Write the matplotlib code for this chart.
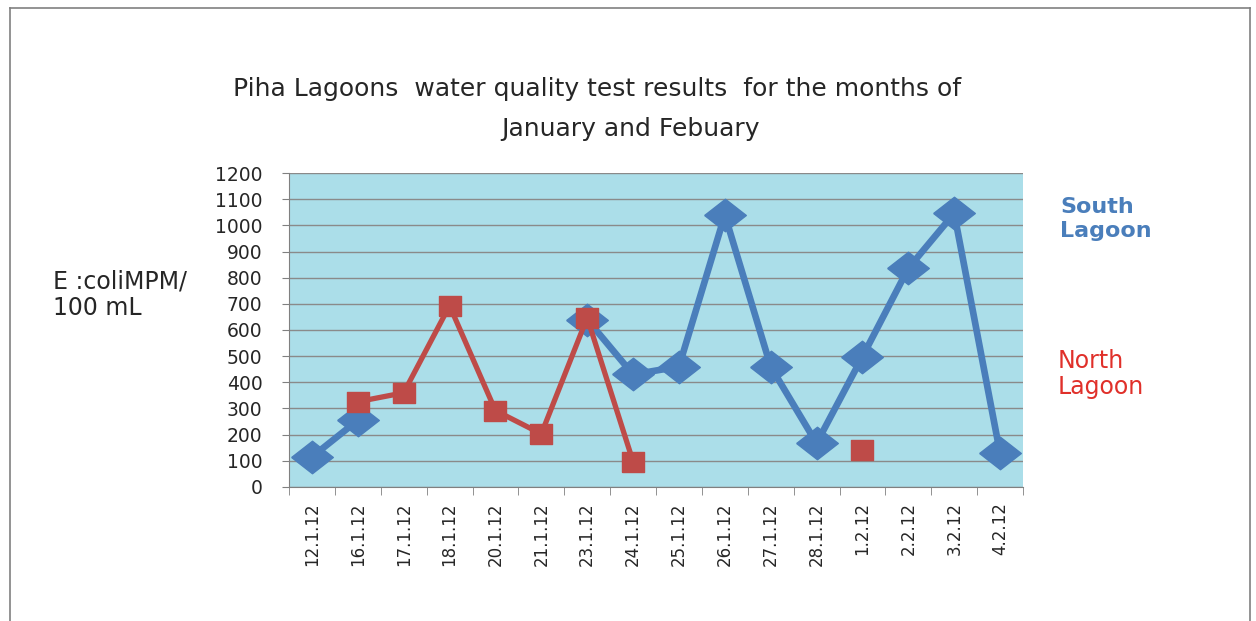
import numpy as np
import matplotlib.pyplot as plt
from matplotlib.lines import Line2D

dates = ['12.1.12', '16.1.12', '17.1.12', '18.1.12', '20.1.12', '21.1.12',
         '23.1.12', '24.1.12', '25.1.12', '26.1.12', '27.1.12', '28.1.12',
         '1.2.12', '2.2.12', '3.2.12', '4.2.12']
south = [115, 255, np.nan, np.nan, np.nan, np.nan, 640, 430, 460, 1040,
         460, 167, 498, 836, 1046, 129]
north = [np.nan, 326, 360, 693, 292, 203, 647, 97, np.nan, np.nan,
         np.nan, np.nan, 141, np.nan, np.nan, np.nan]
y_ticks = list(range(0, 1201, 100))

plt.rcParams['font.family'] = ['DejaVu Sans']

fig = plt.figure(figsize=(12.56, 6.21), dpi=100)
ax = fig.add_axes([0.2301, 0.2158, 0.5844, 0.5056])

# frame round the chart
x0, x1, y0 = 10 / 1256, 1250 / 1256, 1 - 8 / 621
fig.add_artist(Line2D([x0, x1], [y0, y0], color='#808080', lw=1.2, transform=fig.transFigure))
fig.add_artist(Line2D([x0, x0], [y0, 0], color='#808080', lw=1.2, transform=fig.transFigure))
fig.add_artist(Line2D([x1, x1], [y0, 0], color='#808080', lw=1.2, transform=fig.transFigure))

# wide diamond and slightly flat square, as in the picture
diamond = [(-1, 0), (0, 0.78), (1, 0), (0, -0.78), (-1, 0)]
square = [(-1, -0.87), (1, -0.87), (1, 0.87), (-1, 0.87), (-1, -0.87)]

ax.set_facecolor('#abdee9')
x = np.arange(len(dates))
ax.plot(x, south, color='#4a7ebb', lw=4.8, marker=diamond, markersize=30,
        markerfacecolor='#4a7ebb', markeredgecolor='#4a7ebb', zorder=3)
ax.plot(x, north, color='#be4b48', lw=3.8, marker=square, markersize=16,
        markerfacecolor='#be4b48', markeredgecolor='#be4b48', zorder=4)

ax.set_xlim(-0.5, len(dates) - 0.5)
ax.set_ylim(0, 1200)
ax.set_yticks(y_ticks)
ax.set_yticklabels([str(v) for v in y_ticks], fontsize=13.5, color='#262626')
ax.yaxis.grid(True, color='#8a8a8a', lw=1)
ax.set_axisbelow(True)

ax.set_xticks(x)
ax.set_xticklabels(dates, rotation=90, fontsize=12, color='#262626')
ax.set_xticks(np.arange(-0.5, len(dates)), minor=True)
ax.tick_params(axis='x', which='major', length=0, pad=11)
ax.tick_params(axis='x', which='minor', length=6, color='#808080', direction='out')
ax.tick_params(axis='y', length=5, color='#808080', direction='out', pad=14)

for s in ['top', 'right']:
    ax.spines[s].set_visible(False)
for s in ['left', 'bottom']:
    ax.spines[s].set_color('#808080')

fig.text(597 / 1256, 1 - 89 / 621, 'Piha Lagoons  water quality test results  for the months of',
         ha='center', va='center', fontsize=18, color='#262626')
fig.text(630 / 1256, 1 - 129 / 621, 'January and Febuary',
         ha='center', va='center', fontsize=18, color='#262626')

fig.text(53 / 1256, 1 - 295 / 621, 'E :coliMPM/\n100 mL', ha='left', va='center',
         fontsize=17, color='#262626', linespacing=1.15)
fig.text(1060 / 1256, 1 - 219 / 621, 'South\nLagoon', ha='left', va='center',
         fontsize=16, color='#4a7ebb', fontweight='bold', linespacing=1.2)
fig.text(1058 / 1256, 1 - 374 / 621, 'North\nLagoon', ha='left', va='center',
         fontsize=17, color='#e0302a', linespacing=1.15)

fig.savefig('out.png', dpi=100)
